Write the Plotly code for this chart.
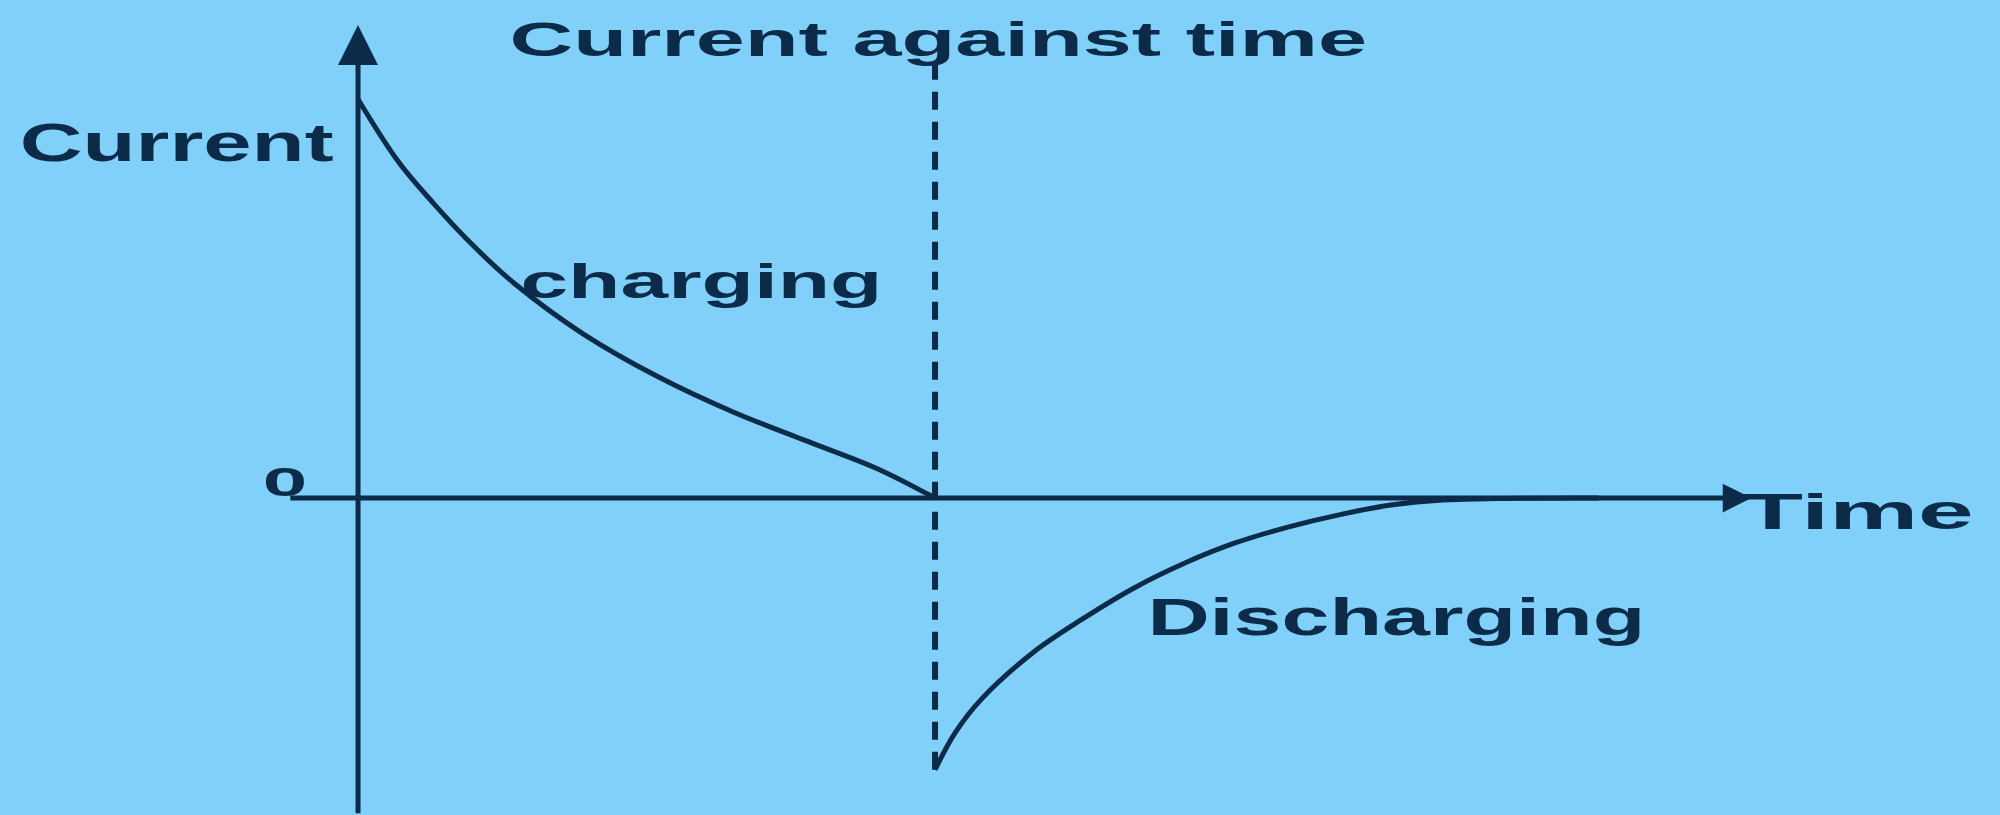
import plotly.graph_objects as go

# values (time units, current units)
charge_t = [0, 0.7, 1.3, 2.0, 2.7, 3.9, 5.2, 6.5, 7.7, 9.0, 10.0]
charge_i = [10.2, 8.6, 7.55, 6.45, 5.5, 4.2, 3.1, 2.2, 1.5, 0.75, 0.0]

discharge_t = [10.0, 10.35, 10.8, 11.7, 12.55, 13.45, 14.35, 15.2, 16.1, 17.0, 17.9, 18.8, 21.5]
discharge_i = [-6.95, -6.0, -5.15, -3.95, -3.1, -2.3, -1.65, -1.15, -0.75, -0.43, -0.18, -0.05, 0.0]

switch_t = 10.0
switch_span = [-6.95, 11.3]

BG = "#81D0FA"
INK = "#0B2B49"
FONT = "Liberation Sans, Arial, sans-serif"

# label text, centre (time, current), font size, horizontal stretch
labels = [
    ("Current against time", 10.05, 11.73, 49, 1.80),
    ("Current", -3.15, 9.08, 53, 1.64),
    ("0", -1.27, 0.42, 40, 2.0),
    ("charging", 5.96, 5.55, 49, 1.75),
    ("Discharging", 17.99, -3.06, 51, 1.69),
    ("Time", 26.0, -0.36, 50, 2.0),
]

fig = go.Figure()

fig.add_trace(go.Scatter(
    x=charge_t, y=charge_i, mode="lines",
    line=dict(color=INK, width=5, shape="spline", smoothing=1.0),
    hoverinfo="skip",
))
fig.add_trace(go.Scatter(
    x=discharge_t, y=discharge_i, mode="lines",
    line=dict(color=INK, width=5, shape="spline", smoothing=1.0),
    hoverinfo="skip",
))
fig.add_trace(go.Scatter(
    x=[switch_t, switch_t], y=switch_span, mode="lines",
    line=dict(color=INK, width=6, dash="18px,12px"),
    hoverinfo="skip",
))

# axes drawn as arrows
fig.add_annotation(x=0, y=12.1, ax=0, ay=-8.1, xref="x", yref="y", axref="x", ayref="y",
                   text="", showarrow=True, arrowhead=2, arrowsize=1.6, arrowwidth=5,
                   arrowcolor=INK, standoff=0)
fig.add_annotation(x=24.15, y=0, ax=-1.2, ay=0, xref="x", yref="y", axref="x", ayref="y",
                   text="", showarrow=True, arrowhead=2, arrowsize=1.15, arrowwidth=5,
                   arrowcolor=INK, standoff=0)

css = ["body{margin:0;}"]
first = len(fig.layout.annotations)
for k, (text, x, y, size, stretch) in enumerate(labels):
    fig.add_annotation(x=x, y=y, xref="x", yref="y", text=f"<b>{text}</b>",
                       showarrow=False, xanchor="center", yanchor="middle",
                       font=dict(family=FONT, size=size, color=INK))
    css.append(
        f'.annotation[data-index="{first + k}"] .annotation-text'
        f"{{transform-box:fill-box;transform-origin:center;transform:scaleX({stretch});}}"
    )

fig.update_layout(
    width=2000, height=815,
    margin=dict(l=0, r=0, t=0, b=0),
    paper_bgcolor=BG, plot_bgcolor=BG,
    showlegend=False,
    xaxis=dict(range=[-6.205, 28.457], visible=False, fixedrange=True),
    yaxis=dict(range=[-8.107, 12.737], visible=False, fixedrange=True),
)

post = (
    "var s=document.createElement('style');"
    f"s.textContent='{''.join(css)}';"
    "document.head.appendChild(s);"
)
fig.write_html("out.html", post_script=post, config={"staticPlot": True})
